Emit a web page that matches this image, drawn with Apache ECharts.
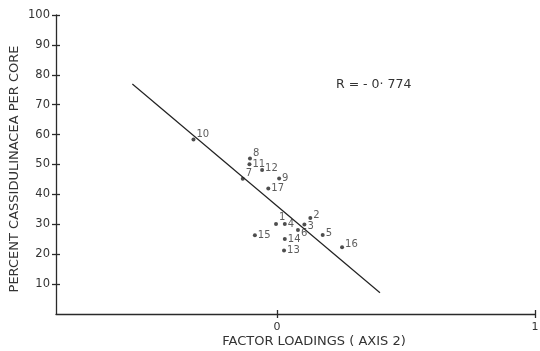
<!DOCTYPE html>
<html>
<head>
<meta charset="utf-8">
<script src="https://cdn.jsdelivr.net/npm/echarts@6/dist/echarts.min.js"></script>
<style>html,body{margin:0;padding:0;background:#fff}#c{width:540px;height:351px}</style>
</head>
<body>
<div id="c"></div>
<script>
var coreLabels = ['1','2','3','4','5','6','7','8','9','10','11','12','13','14','15','16','17'];
var factorLoadings = [-0.004,0.129,0.106,0.030,0.177,0.081,-0.133,-0.105,0.008,-0.324,-0.107,-0.058,0.027,0.030,-0.086,0.252,-0.034];
var percentCassidulinacea = [30.1,32.1,29.9,30.1,26.4,28.1,45.2,52.0,45.3,58.4,50.1,48.2,21.2,25.1,26.3,22.3,42.0];
var regressionX = [-0.561,0.399];
var regressionY = [76.9,7.1];
var yTicks = [10,20,30,40,50,60,70,80,90,100];
var xTicks = [0,1];
var rText = 'R = - 0· 774';
var xTitle = 'FACTOR LOADINGS ( AXIS 2)';
var yTitle = 'PERCENT CASSIDULINACEA PER CORE';

var labelOffsets = {
  '1':[0,-7],'3':[0,2],'6':[0,3],'7':[0,-5],'8':[0,-5],'10':[0,-5],'16':[0,-3],'2':[0,-3],'5':[0,-2],'12':[0,-1]
};
var pts = coreLabels.map(function(n,i){
  var off = labelOffsets[n] || [0,0];
  return {name:n, value:[factorLoadings[i], percentCassidulinacea[i]],
    label:{offset:off}};
});
var linePts = regressionX.map(function(x,i){return [x, regressionY[i]];});

var axisColor = '#2a2a2a';
var font = 'DejaVu Sans';
var chart = echarts.init(document.getElementById('c'), null, {renderer:'canvas'});
var baseX = {type:'value', min:-0.857, max:1, splitLine:{show:false}};
var baseY = {type:'value', min:0, max:100, splitLine:{show:false}};
chart.setOption({
  animation:false,
  backgroundColor:'#fff',
  grid:{left:56, right:5, top:15, bottom:37, containLabel:false, outerBoundsMode:'none'},
  xAxis:[
    Object.assign({}, baseX, {
      axisLine:{show:true, onZero:false, lineStyle:{color:axisColor, width:1.3}},
      axisTick:{show:true, length:4, customValues:xTicks, lineStyle:{color:axisColor, width:1.3}},
      axisLabel:{show:true, customValues:xTicks, margin:8, color:'#333', fontFamily:font, fontSize:11}
    }),
    Object.assign({}, baseX, {
      position:'bottom',
      axisLine:{show:false, onZero:false},
      axisTick:{show:true, inside:true, length:4, customValues:xTicks, lineStyle:{color:axisColor, width:1.3}},
      axisLabel:{show:false}
    })
  ],
  yAxis:[
    Object.assign({}, baseY, {
      axisLine:{show:true, onZero:false, lineStyle:{color:axisColor, width:1.3}},
      axisTick:{show:true, length:4, customValues:yTicks, lineStyle:{color:axisColor, width:1.3}},
      axisLabel:{show:true, customValues:yTicks, margin:6, color:'#333', fontFamily:font, fontSize:11.5}
    }),
    Object.assign({}, baseY, {
      position:'left',
      axisLine:{show:false, onZero:false},
      axisTick:{show:true, inside:true, length:4, customValues:yTicks, lineStyle:{color:axisColor, width:1.3}},
      axisLabel:{show:false}
    })
  ],
  graphic:[
    {type:'text', x:314, y:342, style:{text:xTitle, fill:'#333', font:'13px "DejaVu Sans"', align:'center', verticalAlign:'middle'}},
    {type:'text', x:15, y:169, rotation:Math.PI/2, style:{text:yTitle, fill:'#333', font:'13px "DejaVu Sans"', align:'center', verticalAlign:'middle'}},
    {type:'text', left:336, top:78, style:{text:rText, fill:'#333', font:'12.5px "DejaVu Sans"'}}
  ],
  series:[
    {type:'line', data:linePts, symbol:'none', lineStyle:{color:'#222', width:1.2}, silent:true},
    {type:'scatter', data:pts, symbolSize:4, itemStyle:{color:'#222'},
      label:{show:true, position:'right', distance:1, formatter:'{b}', color:'#333', fontFamily:font, fontSize:10}}
  ]
});
</script>
</body>
</html>
